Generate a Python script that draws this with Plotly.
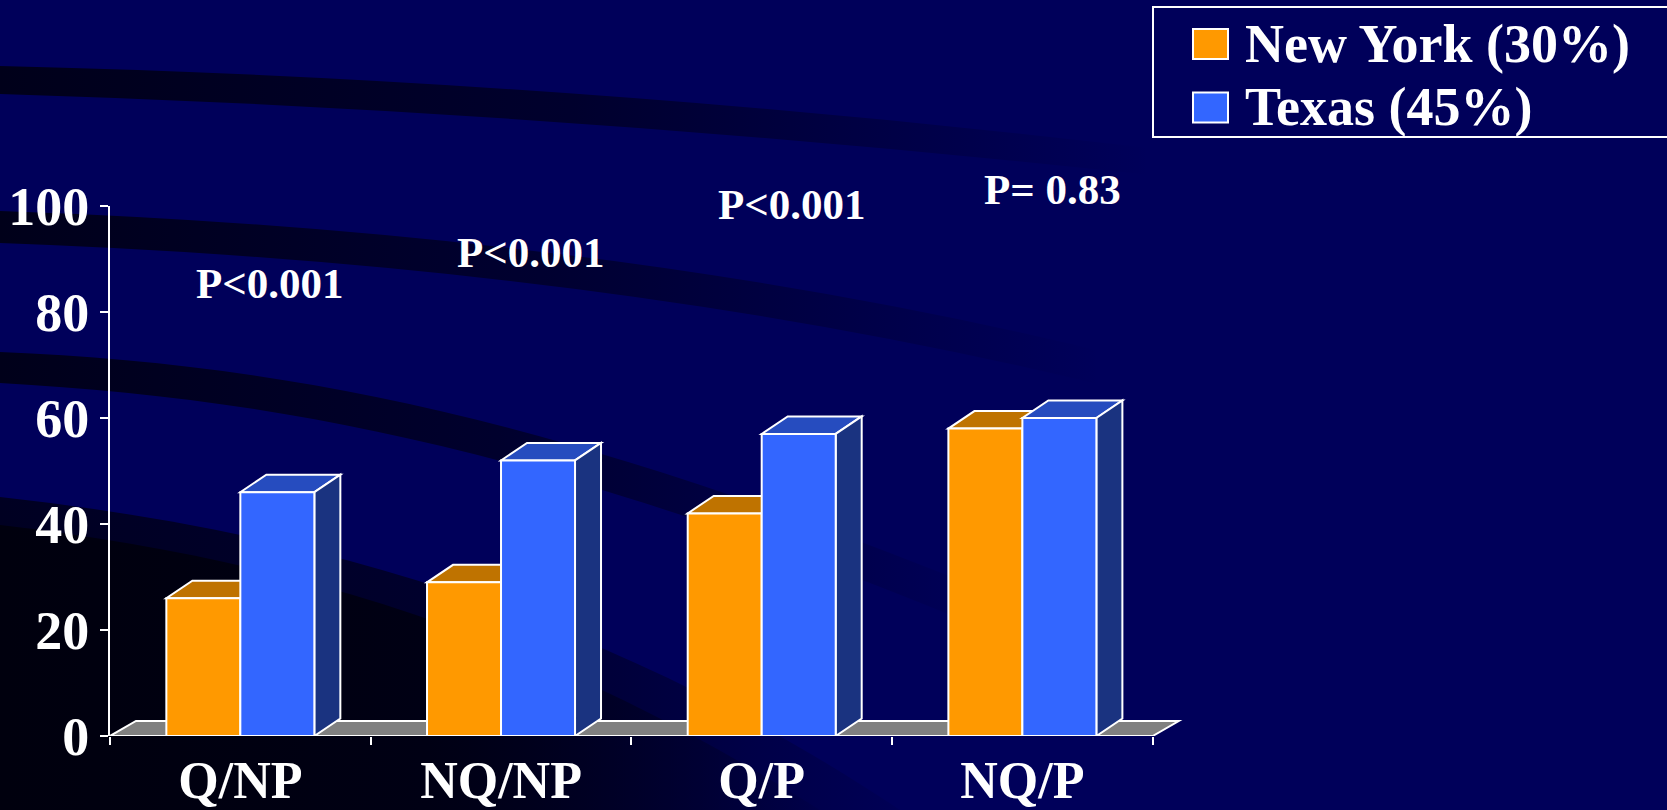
import base64
import plotly.graph_objects as go

# ---- data -------------------------------------------------------------
categories = ["Q/NP", "NQ/NP", "Q/P", "NQ/P"]
series_names = ["New York (30%)", "Texas (45%)"]
new_york = [26, 29, 42, 58]
texas = [46, 52, 57, 60]
p_labels = ["P<0.001", "P<0.001", "P<0.001", "P= 0.83"]
y_ticks = [0, 20, 40, 60, 80, 100]

# ---- geometry ---------------------------------------------------------
W, H = 1667, 810
ML, MR, MT, MB = 110, 483, 206, 74
X_RANGE = [-0.5, 3.62]
Y_RANGE = [0, 100]
PW, PH = W - ML - MR, H - MT - MB
UX = PW / (X_RANGE[1] - X_RANGE[0])      # px per category
UY = PH / (Y_RANGE[1] - Y_RANGE[0])      # px per value unit

BAR_W = 74 / UX                           # width of one bar front
DX, DY = 26 / UX, 17.5 / UY               # bar depth offset
FDX, FDY = 26 / UX, 15 / UY               # floor depth offset
P_LABEL_Y = [85.3, 91.3, 100.2, 103.2]    # label centres, axis units
P_LABEL_SHIFT = 30                        # px to the right of category centre

FRONT = ["#FF9900", "#3366FF"]
TOP = ["#BF7300", "#264CBF"]
SIDE = ["#804D00", "#1A3380"]
EDGE = "white"
NAVY = "#00005A"
FONT = "Liberation Serif"


def px_x(px):
    return (px - ML) / PW


def px_y(py):
    return (H - MB - py) / PH


def poly(points):
    return "M " + " L ".join(f"{x:.4f},{y:.4f}" for x, y in points) + " Z"


# ---- background with dark swooshes -----------------------------------
def grad(gid, color, x2, o0, o1):
    return (f'<linearGradient id="{gid}" gradientUnits="userSpaceOnUse" x1="0" y1="0" x2="{x2}" y2="0">'
            f'<stop offset="0" stop-color="{color}" stop-opacity="{o0}"/>'
            f'<stop offset="0.5" stop-color="{color}" stop-opacity="{o1}"/>'
            f'<stop offset="1" stop-color="{color}" stop-opacity="0"/></linearGradient>')


bg_svg = (
    f'<svg xmlns="http://www.w3.org/2000/svg" width="{W}" height="{H}" viewBox="0 0 {W} {H}">'
    "<defs>"
    + grad("g1", "#00001A", 1150, 1, 0.7)
    + grad("g2", "#00001A", 1100, 1, 0.65)
    + grad("g3", "#00001A", 1000, 1, 0.7)
    + grad("g4", "#000022", 950, 1, 0.8)
    + grad("g5", "#00000E", 850, 1, 0.8)
    + "</defs>"
    f'<rect width="{W}" height="{H}" fill="{NAVY}"/>'
    '<path d="M0,66 Q600,80 1250,160 L1250,186 Q600,112 0,94 Z" fill="url(#g1)"/>'
    '<path d="M0,211 Q700,235 1250,390 L1250,424 Q700,268 0,243 Z" fill="url(#g2)"/>'
    '<path d="M0,352 C300,365 600,420 1150,660 L1150,700 C600,455 300,400 0,383 Z" fill="url(#g3)"/>'
    '<path d="M0,497 C300,530 600,610 900,810 L0,810 Z" fill="url(#g4)"/>'
    '<path d="M0,525 C300,560 550,640 820,810 L0,810 Z" fill="url(#g5)"/>'
    "</svg>"
)
bg_uri = "data:image/svg+xml;base64," + base64.b64encode(bg_svg.encode()).decode()

# ---- bars (front faces) ----------------------------------------------
fig = go.Figure()
for j, (name, vals) in enumerate(zip(series_names, [new_york, texas])):
    fig.add_trace(go.Bar(
        x=categories, y=vals, name=name,
        width=BAR_W, offset=-BAR_W + j * BAR_W,
        marker=dict(color=FRONT[j], line=dict(color=EDGE, width=2)),
        showlegend=False,
    ))

# ---- 3-D floor, tops and sides ---------------------------------------
shapes = []
x0, x1 = -0.5, len(categories) - 0.5
shapes.append(dict(type="path", xref="x", yref="y", layer="below",
                   path=poly([(x0, 0), (x1, 0), (x1 + FDX, FDY), (x0 + FDX, FDY)]),
                   fillcolor="#808080", line=dict(color=EDGE, width=2)))

for i in range(len(categories)):
    for j, vals in enumerate([new_york, texas]):
        h = vals[i]
        xl = i - BAR_W + j * BAR_W
        xr = xl + BAR_W
        shapes.append(dict(type="path", xref="x", yref="y", layer="below",
                           path=poly([(xl, h), (xr, h), (xr + DX, h + DY), (xl + DX, h + DY)]),
                           fillcolor=TOP[j], line=dict(color=EDGE, width=2)))
        shapes.append(dict(type="path", xref="x", yref="y", layer="below",
                           path=poly([(xr, 0), (xr, h), (xr + DX, h + DY), (xr + DX, DY)]),
                           fillcolor=SIDE[j], line=dict(color=EDGE, width=2)))

# ---- legend box --------------------------------------------------------
shapes.append(dict(type="rect", xref="paper", yref="paper",
                   x0=px_x(1153), x1=px_x(1675), y0=px_y(137), y1=px_y(7),
                   fillcolor=NAVY, line=dict(color=EDGE, width=2)))
legend_rows = [44, 107.5]
annotations = []
for j, name in enumerate(series_names):
    cy = legend_rows[j]
    shapes.append(dict(type="rect", xref="paper", yref="paper",
                       x0=px_x(1193), x1=px_x(1228), y0=px_y(cy + 15), y1=px_y(cy - 15),
                       fillcolor=FRONT[j], line=dict(color=EDGE, width=2)))
    annotations.append(dict(xref="paper", yref="paper", x=px_x(1243), y=px_y(cy),
                            xanchor="left", yanchor="middle", showarrow=False, text=name,
                            font=dict(family=FONT, size=54, color="white", weight="bold")))

# ---- p-value labels (paper y so they may sit above the axis top) -------
for i, (txt, yv) in enumerate(zip(p_labels, P_LABEL_Y)):
    annotations.append(dict(xref="x", yref="paper", x=i,
                            y=(yv - Y_RANGE[0]) / (Y_RANGE[1] - Y_RANGE[0]),
                            xshift=P_LABEL_SHIFT, xanchor="center", yanchor="middle",
                            showarrow=False, text=txt,
                            font=dict(family=FONT, size=43, color="white", weight="bold")))

fig.update_layout(
    width=W, height=H,
    margin=dict(l=ML, r=MR, t=MT, b=MB, pad=0, autoexpand=False),
    paper_bgcolor=NAVY, plot_bgcolor="rgba(0,0,0,0)",
    barmode="overlay", showlegend=False,
    shapes=shapes, annotations=annotations,
    images=[dict(source=bg_uri, xref="paper", yref="paper",
                 x=-ML / PW, y=(H - MB) / PH, sizex=W / PW, sizey=H / PH,
                 xanchor="left", yanchor="top", sizing="stretch", layer="below")],
    xaxis=dict(type="category", categoryorder="array", categoryarray=categories,
               range=X_RANGE, tickson="boundaries", ticks="outside", ticklen=8,
               tickwidth=2, tickcolor=EDGE, showline=False, showgrid=False, zeroline=False,
               ticklabelstandoff=9, automargin=False,
               tickfont=dict(family=FONT, size=52, color="white", weight="bold")),
    yaxis=dict(range=Y_RANGE, tickvals=y_ticks, ticks="outside", ticklen=8, tickwidth=2,
               tickcolor=EDGE, showline=True, linecolor=EDGE, linewidth=2,
               showgrid=False, zeroline=False, automargin=False,
               tickfont=dict(family=FONT, size=54, color="white", weight="bold")),
)

fig.write_html("out.html")
